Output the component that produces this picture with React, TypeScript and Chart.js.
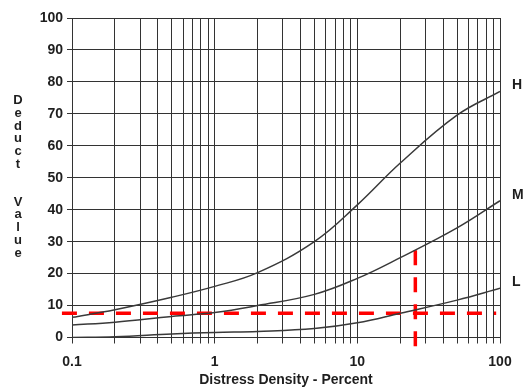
import React, { useEffect, useRef } from 'react';
import { Chart, registerables } from 'chart.js';

Chart.register(...registerables);

// ---- data ----
const densityX = [0.1, 0.2, 0.5, 1, 2, 5, 10, 20, 50, 100];
const deductH = [6.3, 8.7, 12.6, 16, 20.3, 30, 41.5, 54.6, 69.6, 77];
const deductM = [3.9, 4.8, 6.6, 7.8, 10, 13.5, 18.5, 25, 34.3, 42.8];
const deductL = [0, 0.25, 1.1, 1.6, 1.9, 2.8, 4.6, 7.6, 11.7, 15.4];

const seriesNames = ['H', 'M', 'L'];

// red dashed reading lines
const refLineX = [0.085, 94];
const refLineY = 7.6;
const markX = 25.5;
const markYRange = [-2.7, 28.5];

// axes
const xDecades = [0.1, 1, 10];
const xMultipliers = [1, 2, 3, 4, 5, 6, 7, 8, 9];
const xLast = 100;
const xTickValues = [0.1, 1, 10, 100];
const xTickLabels = ['0.1', '1', '10', '100'];
const yTickStep = 10;
const yTitleLetters = ['D', 'e', 'd', 'u', 'c', 't', '', '', 'V', 'a', 'l', 'u', 'e'];
const xTitle = 'Distress Density - Percent';

const FONT = '"Liberation Sans", Arial, Helvetica, sans-serif';
const INK = '#1e1e1e';
const GRID = '#333333';
const CURVE = '#3a3a3a';

const xGridValues = xDecades
  .flatMap((d) => xMultipliers.map((m) => +(d * m).toPrecision(3)))
  .concat([xLast]);

const pts = (xs: number[], ys: number[]) => xs.map((x, i) => ({ x, y: ys[i] }));

const labelsPlugin = {
  id: 'extraLabels',
  afterDraw(chart: any) {
    const { ctx, chartArea, scales } = chart;
    ctx.save();
    ctx.fillStyle = INK;
    ctx.textAlign = 'center';
    ctx.textBaseline = 'middle';
    ctx.font = `bold 13px ${FONT}`;
    const cy = (chartArea.top + chartArea.bottom) / 2 - 1;
    const n = yTitleLetters.length;
    const step = 12.7;
    yTitleLetters.forEach((ch, i) => {
      if (ch) ctx.fillText(ch, 18, cy + (i - (n - 1) / 2) * step);
    });
    ctx.font = `bold 14px ${FONT}`;
    ctx.textAlign = 'left';
    const all = [deductH, deductM, deductL];
    seriesNames.forEach((name, i) => {
      const arr = all[i];
      const y = scales.y.getPixelForValue(arr[arr.length - 1]) - 6;
      ctx.fillText(name, chartArea.right + 12, y);
    });
    ctx.restore();
  },
};

export default function App() {
  const ref = useRef<HTMLCanvasElement | null>(null);

  useEffect(() => {
    if (!ref.current) return;
    const curve = (data: any[]) => ({
      data,
      borderColor: CURVE,
      borderWidth: 1.5,
      pointRadius: 0,
      tension: 0.4,
      fill: false,
    });
    const dashed = (data: any[]) => ({
      data,
      borderColor: '#ff0000',
      borderWidth: 3.5,
      borderDash: [15, 12],
      pointRadius: 0,
      fill: false,
      clip: false as any,
    });
    const chart = new Chart(ref.current, {
      type: 'line',
      data: {
        datasets: [
          curve(pts(densityX, deductH)),
          curve(pts(densityX, deductM)),
          curve(pts(densityX, deductL)),
          dashed(refLineX.map((x) => ({ x, y: refLineY }))),
          dashed(markYRange.map((y) => ({ x: markX, y }))),
        ],
      },
      options: {
        responsive: false,
        animation: false,
        layout: { padding: { top: 18, right: 23, left: 0, bottom: 0 } },
        plugins: { legend: { display: false }, tooltip: { enabled: false } },
        scales: {
          x: {
            type: 'logarithmic',
            min: 0.1,
            max: 100,
            afterBuildTicks: (scale: any) => {
              scale.ticks = xGridValues.map((v) => ({ value: v }));
            },
            afterFit: (scale: any) => {
              scale.height = 49.5;
            },
            grid: { color: GRID, lineWidth: 1, drawTicks: true, tickLength: 6 },
            border: { display: true, color: GRID, width: 1 },
            ticks: {
              autoSkip: false,
              maxRotation: 0,
              padding: 10,
              color: INK,
              font: { family: FONT, size: 14, weight: 'bold' },
              callback: (value: any) => {
                const idx = xTickValues.findIndex((t) => Math.abs(t - Number(value)) < 1e-9);
                return idx >= 0 ? xTickLabels[idx] : '';
              },
            },
            title: {
              display: true,
              text: xTitle,
              color: INK,
              font: { family: FONT, size: 14, weight: 'bold', lineHeight: 1 },
              padding: { top: 0, bottom: 0 },
            },
          },
          y: {
            type: 'linear',
            min: 0,
            max: 100,
            afterFit: (scale: any) => {
              scale.width = 72;
            },
            grid: { color: GRID, lineWidth: 1, drawTicks: true, tickLength: 5 },
            border: { display: true, color: GRID, width: 1 },
            ticks: {
              stepSize: yTickStep,
              padding: 4,
              color: INK,
              font: { family: FONT, size: 14, weight: 'bold' },
            },
          },
        },
      } as any,
      plugins: [labelsPlugin],
    });
    return () => chart.destroy();
  }, []);

  return (
    <div style={{ position: 'fixed', left: 0, top: 0, width: 523, height: 387, background: '#fff' }}>
      <canvas ref={ref} width={523} height={387} style={{ display: 'block' }} />
    </div>
  );
}
